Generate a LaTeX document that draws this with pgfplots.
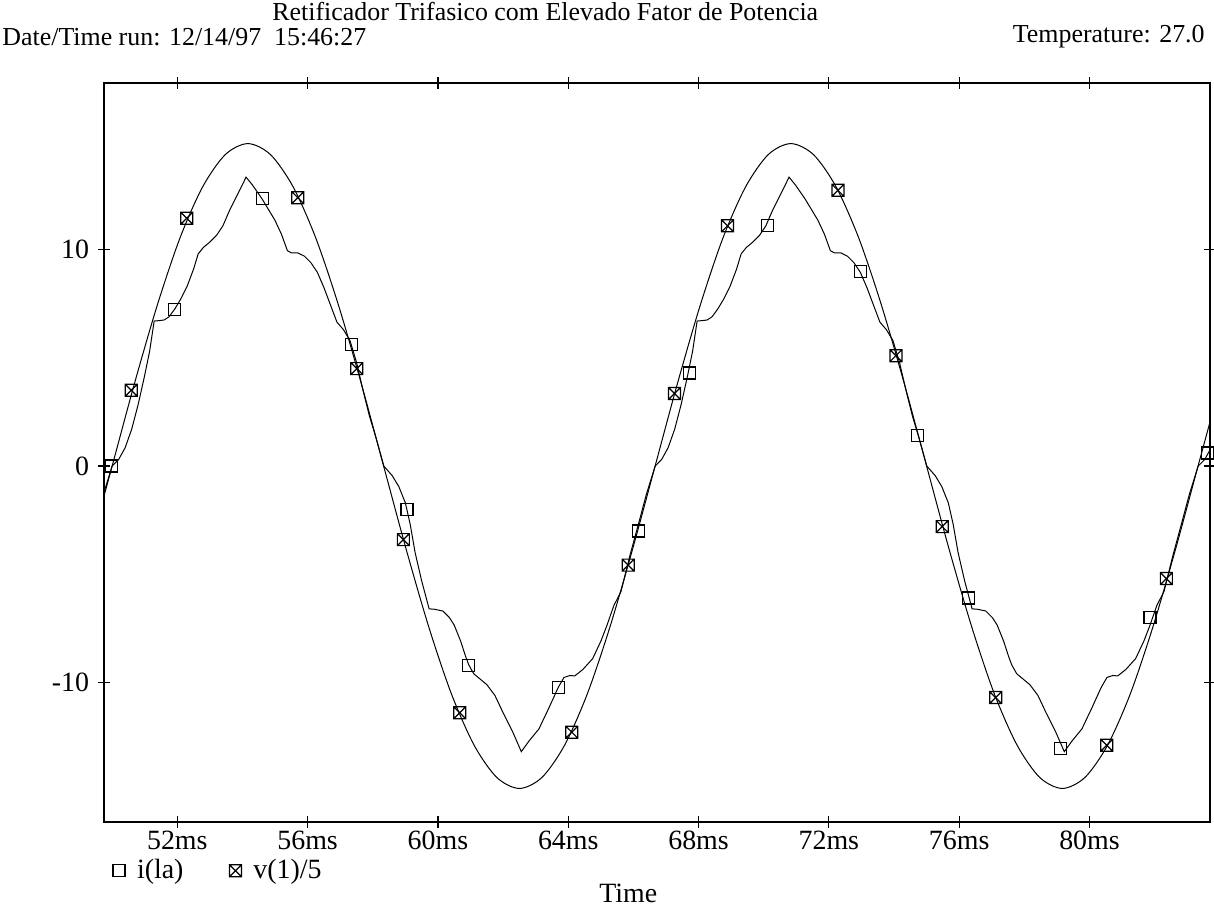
\documentclass[border=0pt]{standalone}
\usepackage{fontspec}
\setmainfont{Liberation Serif}
\usepackage{pgfplots}
\pgfplotsset{compat=1.18}

% square with a cross inside, as PSpice draws it
\pgfdeclareplotmark{boxx}{%
  \pgfpathrectangle{\pgfpoint{-\pgfplotmarksize}{-\pgfplotmarksize}}{\pgfpoint{2\pgfplotmarksize}{2\pgfplotmarksize}}%
  \pgfpathmoveto{\pgfpoint{-\pgfplotmarksize}{-\pgfplotmarksize}}%
  \pgfpathlineto{\pgfpoint{\pgfplotmarksize}{\pgfplotmarksize}}%
  \pgfpathmoveto{\pgfpoint{-\pgfplotmarksize}{\pgfplotmarksize}}%
  \pgfpathlineto{\pgfpoint{\pgfplotmarksize}{-\pgfplotmarksize}}%
  \pgfusepathqstroke}

\newcommand{\lbl}{\fontsize{14}{16}\selectfont}
\newcommand{\hdr}{\fontsize{13}{15}\selectfont}

\begin{document}
\begin{tikzpicture}
\useasboundingbox (-52bp,-42bp) rectangle (555bp,411bp);
\begin{axis}[
  at={(0,0)}, anchor=south west,
  width=553bp, height=369.5bp, scale only axis,
  xmin=49.75, xmax=83.7, ymin=-16.45, ymax=17.7,
  axis line style={line width=0.8pt},
  xtick={52,56,...,80},
  xticklabels={52ms,56ms,60ms,64ms,68ms,72ms,76ms,80ms},
  ytick={-10,0,10}, yticklabels={-10,0,10},
  tick align=center, major tick length=6bp,
  tick style={line width=0.6pt, black},
  ticklabel style={font=\lbl},
  xticklabel style={yshift=-0.5bp, inner sep=1bp},
  yticklabel style={xshift=-1bp},
  title={Retificador Trifasico com Elevado Fator de Potencia},
  title style={at={(axis description cs:0.399,1.080)}, anchor=center, font=\hdr},
  xlabel={Time},
  xlabel style={at={(axis description cs:0.474,-0.097)}, anchor=center, font=\lbl},
  legend columns=2,
  legend cell align=left,
  legend style={at={(axis description cs:0.006,-0.066)}, anchor=west,
    draw=none, fill=none, font=\lbl, inner sep=1bp,
    nodes={inner sep=1bp},
    /tikz/every odd column/.append style={column sep=5bp},
    /tikz/every even column/.append style={column sep=22bp}},
]
% v(1)/5
\addplot[black, line width=0.5pt, smooth, forget plot] coordinates {
(49.306,-3.86) (50.000,0) (50.694,3.86) (51.389,7.45) (52.083,10.54)
(52.778,12.90) (53.472,14.39) (54.167,14.90) (54.861,14.39) (55.556,12.90)
(56.250,10.54) (56.944,7.45) (57.639,3.86) (58.333,0) (59.028,-3.86)
(59.722,-7.45) (60.417,-10.54) (61.111,-12.90) (61.806,-14.39) (62.500,-14.90)
(63.194,-14.39) (63.889,-12.90) (64.583,-10.54) (65.278,-7.45) (65.972,-3.86)
(66.667,0) (67.361,3.86) (68.056,7.45) (68.750,10.54) (69.444,12.90)
(70.139,14.39) (70.833,14.90) (71.528,14.39) (72.222,12.90) (72.917,10.54)
(73.611,7.45) (74.306,3.86) (75.000,0) (75.694,-3.86) (76.389,-7.45)
(77.083,-10.54) (77.778,-12.90) (78.472,-14.39) (79.167,-14.90) (79.861,-14.39)
(80.556,-12.90) (81.250,-10.54) (81.944,-7.45) (82.639,-3.86) (83.333,0)
(84.028,3.86)
};
% i(la)
\addplot[black, line width=0.5pt, forget plot] coordinates {
(49.50,-2.6) (49.733,-1.3) (50.00,0.0) (50.20,0.3) (50.40,0.85) (50.60,1.7)
(50.80,2.85) (51.00,4.2) (51.15,5.3) (51.29,6.7) (51.45,6.72) (51.60,6.75)
(51.75,6.9) (51.92,7.25) (52.10,7.7) (52.30,8.3) (52.50,9.1) (52.64,9.8)
(52.80,10.1) (53.00,10.35) (53.20,10.65) (53.40,11.1) (53.60,11.8) (53.80,12.4)
(54.00,13.0) (54.11,13.35) (54.30,13.0) (54.60,12.35) (55.00,11.35) (55.20,10.7)
(55.38,9.95) (55.50,9.85) (55.70,9.85) (55.90,9.7) (56.10,9.4) (56.30,8.95)
(56.50,8.25) (56.70,7.45) (56.90,6.65) (57.10,6.3) (57.30,5.8) (57.50,4.8)
(57.70,3.5) (57.90,2.3) (58.10,1.3) (58.34,0.0) (58.60,-0.45) (58.80,-0.95)
(59.00,-1.7) (59.15,-2.7) (59.30,-4.0) (59.50,-5.3) (59.73,-6.6) (59.90,-6.62)
(60.15,-6.7) (60.35,-7.0) (60.50,-7.35) (60.70,-8.1) (60.85,-8.8) (60.95,-9.2)
(61.10,-9.6) (61.30,-9.85) (61.50,-10.1) (61.75,-10.6) (62.00,-11.4) (62.30,-12.3)
(62.56,-13.2) (62.80,-12.7) (63.10,-12.15) (63.40,-11.2) (63.69,-10.24) (63.87,-9.77)
(64.05,-9.68) (64.20,-9.7) (64.45,-9.4) (64.75,-8.9) (65.00,-8.1) (65.18,-7.4)
(65.40,-6.45) (65.62,-5.8) (65.90,-4.1) (66.17,-2.6) (66.40,-1.3) (66.67,0.0)
(66.867,0.3) (67.067,0.85) (67.267,1.7) (67.467,2.85) (67.667,4.2) (67.817,5.3)
(67.957,6.7) (68.117,6.72) (68.267,6.75) (68.417,6.9) (68.587,7.25) (68.767,7.7)
(68.967,8.3) (69.167,9.1) (69.307,9.8) (69.467,10.1) (69.667,10.35) (69.867,10.65)
(70.067,11.1) (70.267,11.8) (70.467,12.4) (70.667,13.0) (70.777,13.35) (70.967,13.0)
(71.267,12.35) (71.667,11.35) (71.867,10.7) (72.047,9.95) (72.167,9.85) (72.367,9.85)
(72.567,9.7) (72.767,9.4) (72.967,8.95) (73.167,8.25) (73.367,7.45) (73.567,6.65)
(73.767,6.3) (73.967,5.8) (74.167,4.8) (74.367,3.5) (74.567,2.3) (74.767,1.3)
(75.007,0.0) (75.267,-0.45) (75.467,-0.95) (75.667,-1.7) (75.817,-2.7) (75.967,-4.0)
(76.167,-5.3) (76.397,-6.6) (76.567,-6.62) (76.817,-6.7) (77.017,-7.0) (77.167,-7.35)
(77.367,-8.1) (77.517,-8.8) (77.617,-9.2) (77.767,-9.6) (77.967,-9.85) (78.167,-10.1)
(78.417,-10.6) (78.667,-11.4) (78.967,-12.3) (79.227,-13.2) (79.467,-12.7) (79.767,-12.15)
(80.067,-11.2) (80.357,-10.24) (80.537,-9.77) (80.717,-9.68) (80.867,-9.7) (81.117,-9.4)
(81.417,-8.9) (81.667,-8.1) (81.847,-7.4) (82.067,-6.45) (82.287,-5.8) (82.567,-4.1)
(82.837,-2.6) (83.067,-1.3) (83.337,0.0) (83.537,0.3) (83.737,0.85)
};
% markers
\addplot[black, only marks, mark=square, mark size=3bp, mark options={line width=0.6pt}] coordinates {
(49.98,0.0) (51.92,7.23) (54.61,12.35) (57.35,5.6) (59.05,-2.0) (60.94,-9.2)
(63.69,-10.24) (66.15,-3.0) (67.72,4.3) (70.11,11.1) (72.98,9.0) (74.72,1.4)
(76.29,-6.1) (79.12,-13.07) (81.86,-7.0) (83.63,0.6)
};
\addlegendentry{i(la)}
\addplot[black, only marks, mark=boxx, mark size=3bp, mark options={line width=0.6pt}] coordinates {
(50.585,3.5) (52.29,11.45) (55.70,12.4) (57.51,4.5) (58.94,-3.4) (60.67,-11.4)
(64.11,-12.3) (65.84,-4.58) (67.26,3.35) (68.89,11.1) (72.28,12.74) (74.06,5.1)
(75.48,-2.8) (77.12,-10.7) (80.53,-12.9) (82.36,-5.2)
};
\addlegendentry{v(1)/5}
\end{axis}
\node[anchor=west, font=\hdr, inner sep=0pt] at (-51bp,392.5bp) {Date/Time run: 12/14/97\ \ 15:46:27};
\node[anchor=east, font=\hdr, inner sep=0pt] at (550.5bp,392.5bp) {Temperature: 27.0};
\end{tikzpicture}
\end{document}
